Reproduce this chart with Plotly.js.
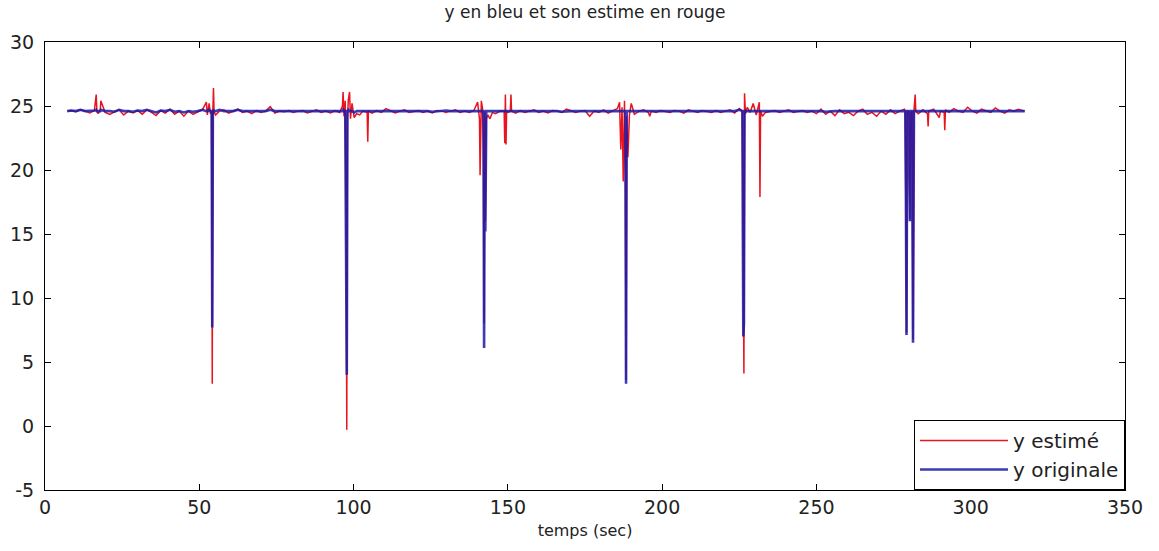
<!DOCTYPE html>
<html>
<head>
<meta charset="utf-8">
<script src="https://cdn.plot.ly/plotly-3.0.1.min.js"></script>
<style>html,body{margin:0;padding:0;background:#fff;}#chart{width:1159px;height:551px;}</style>
</head>
<body>
<div id="chart"></div>
<script>
// temps (sec)
var temps = [
  7.2, 8.5, 10, 11.5, 13, 14.5, 16, 16.6, 16.8, 17.2,
  17.9, 18.1, 19.5, 21, 22.5, 24, 25.5, 27, 28.5, 30,
  31.5, 33, 34.5, 36, 37.5, 39, 40.5, 42, 43.5, 45,
  46.5, 48, 49.5, 51, 52.3, 52.6, 53.2, 53.6, 54.0, 54.2,
  54.4, 54.6, 54.8, 55.3, 56.5, 58, 59.5, 61, 62.5, 64,
  65.5, 67, 68.5, 70, 71.5, 73, 74.5, 76, 77.5, 79,
  80.5, 82, 83.5, 85, 86.5, 88, 89.5, 91, 92.5, 94,
  95.5, 96.4, 96.6, 96.9, 97.3, 97.6, 97.8, 98.0, 98.3, 98.7,
  99.0, 99.5, 100.2, 101, 102, 103, 104.4, 104.6, 104.8, 106,
  107.5, 109, 110.5, 112, 113.5, 115, 116.5, 118, 119.5, 121,
  122.5, 124, 125.5, 127, 128.5, 130, 131.5, 133, 134.5, 136,
  137.5, 139, 140.2, 140.8, 141.0, 141.2, 141.4, 141.8, 142.1, 142.3,
  142.5, 142.7, 143.0, 143.5, 144.2, 145, 146, 147.5, 148.8, 149.0,
  149.2, 149.4, 149.6, 150, 150.8, 151.0, 151.2, 152.5, 154, 155.5,
  157, 158.5, 160, 161.5, 163, 164.5, 166, 167.5, 169, 170.5,
  172, 173.5, 175, 176.5, 178, 179.5, 181, 182.5, 184, 185.5,
  186.2, 186.6, 187.0, 187.4, 187.8, 188.1, 188.3, 188.5, 188.9, 189.4,
  190, 191, 192.5, 194, 195.5, 196.0, 196.5, 198, 199.5, 201,
  202.5, 204, 205.5, 207, 208.5, 210, 211.5, 213, 214.5, 216,
  217.5, 219, 220.5, 222, 223.5, 225, 226.0, 226.3, 226.5, 226.7,
  227.0, 227.6, 228.5, 229.5, 230.5, 231.5, 231.7, 231.9, 232.5, 233.5,
  235, 236.5, 238, 239.5, 241, 242.5, 244, 245.5, 247, 248.5,
  250, 251.5, 253, 254.5, 256, 257.5, 259, 260.5, 262, 263.5,
  265, 266.5, 268, 269.5, 271, 272.5, 274, 275.5, 277, 278.5,
  278.8, 279.0, 279.2, 279.4, 279.7, 280.0, 280.3, 280.6, 281.0, 281.3,
  281.6, 282.0, 282.2, 283, 284.5, 286.0, 286.2, 286.4, 288, 289.8,
  290.2, 291.4, 291.6, 291.8, 293, 294.5, 296, 297.5, 299, 300.5,
  302, 303.5, 305, 306.5, 308, 309.5, 311, 312.5, 314, 315.5,
  317.5
];

// y estimé (rouge)
var yEstime = [
  24.6, 24.65, 24.55, 24.7, 24.6, 24.45, 24.65, 25.9, 24.6, 24.4,
  24.65, 25.4, 24.5, 24.35, 24.55, 24.7, 24.3, 24.6, 24.45, 24.65,
  24.35, 24.7, 24.5, 24.25, 24.65, 24.45, 24.75, 24.35, 24.6, 24.2,
  24.6, 24.35, 24.55, 24.7, 25.3, 24.3, 25.2, 24.4, 24.6, 3.3,
  24.6, 26.4, 24.5, 24.3, 24.6, 24.7, 24.45, 24.6, 24.75, 24.5,
  24.6, 24.4, 24.65, 24.5, 24.6, 24.95, 24.45, 24.6, 24.55, 24.65,
  24.5, 24.6, 24.65, 24.45, 24.6, 24.7, 24.5, 24.6, 24.45, 24.65,
  24.5, 25.0, 26.1, 24.2, 25.4, 16.0, -0.3, 24.0, 25.5, 26.1,
  24.0, 25.2, 24.1, 24.4, 24.3, 24.6, 24.5, 22.2, 24.6, 24.45,
  24.65, 24.5, 24.8, 24.6, 24.45, 24.6, 24.7, 24.5, 24.6, 24.65,
  24.5, 24.6, 24.45, 24.65, 24.6, 24.5, 24.6, 24.7, 24.5, 24.6,
  24.5, 24.65, 25.3, 24.0, 19.6, 24.2, 25.4, 24.8, 21.8, 8.0,
  24.6, 16.0, 24.0, 24.3, 24.0, 24.5, 24.4, 24.6, 24.6, 22.1,
  25.9, 22.0, 24.6, 24.5, 24.6, 25.9, 24.6, 24.45, 24.65, 24.5,
  24.6, 24.7, 24.5, 24.6, 24.45, 24.65, 24.6, 24.5, 24.75, 24.6,
  24.5, 24.6, 24.65, 24.2, 24.6, 24.5, 24.7, 24.45, 24.6, 24.8,
  25.3, 21.6, 24.9, 19.1, 25.4, 19.5, 3.6, 24.2, 21.0, 24.3,
  25.2, 24.35, 24.6, 24.7, 24.5, 24.2, 24.6, 24.5, 24.65, 24.6,
  24.5, 24.65, 24.6, 24.45, 24.7, 24.6, 24.5, 24.65, 24.6, 24.5,
  24.65, 24.5, 24.6, 24.7, 24.45, 24.8, 24.6, 7.2, 4.1, 26.0,
  24.4, 24.9, 24.5, 25.2, 24.3, 25.3, 17.9, 24.6, 24.2, 24.5,
  24.6, 24.65, 24.5, 24.6, 24.7, 24.5, 24.6, 24.65, 24.5, 24.6,
  24.4, 24.75, 24.35, 24.6, 24.25, 24.7, 24.4, 24.5, 24.25, 24.6,
  24.75, 24.35, 24.5, 24.2, 24.6, 24.35, 24.7, 24.4, 24.6, 24.75,
  24.6, 18.0, 7.3, 24.6, 24.5, 24.6, 16.2, 24.5, 24.6, 6.8,
  24.6, 25.9, 24.6, 24.4, 24.7, 24.4, 23.4, 24.6, 24.75, 24.1,
  24.6, 24.5, 23.1, 24.7, 24.5, 24.8, 24.6, 24.5, 24.9, 24.6,
  24.45, 24.75, 24.6, 24.5, 24.85, 24.6, 24.45, 24.7, 24.6, 24.75,
  24.6
];

// y originale (bleu)
var yOriginale = [
  24.6, 24.65, 24.6, 24.7, 24.6, 24.6, 24.65, 24.7, 24.6, 24.6,
  24.6, 24.7, 24.6, 24.6, 24.55, 24.7, 24.6, 24.6, 24.55, 24.65,
  24.6, 24.7, 24.6, 24.5, 24.65, 24.6, 24.7, 24.55, 24.6, 24.5,
  24.6, 24.55, 24.6, 24.7, 24.6, 24.6, 24.7, 24.6, 24.6, 7.7,
  24.6, 24.7, 24.6, 24.6, 24.7, 24.6, 24.6, 24.6, 24.7, 24.6,
  24.6, 24.6, 24.65, 24.6, 24.6, 24.7, 24.6, 24.6, 24.6, 24.6,
  24.6, 24.6, 24.6, 24.6, 24.6, 24.65, 24.6, 24.6, 24.6, 24.6,
  24.6, 24.6, 24.7, 24.6, 24.6, 16.2, 4.0, 24.6, 24.7, 24.6,
  24.6, 24.6, 24.5, 24.6, 24.6, 24.6, 24.6, 24.6, 24.6, 24.6,
  24.6, 24.6, 24.65, 24.6, 24.6, 24.6, 24.6, 24.6, 24.6, 24.6,
  24.6, 24.6, 24.55, 24.6, 24.6, 24.65, 24.6, 24.6, 24.6, 24.6,
  24.6, 24.6, 24.6, 24.6, 24.6, 24.6, 24.6, 24.6, 24.6, 6.1,
  24.6, 15.2, 24.6, 24.6, 24.6, 24.6, 24.6, 24.6, 24.6, 24.6,
  24.6, 24.6, 24.6, 24.6, 24.6, 24.6, 24.6, 24.6, 24.65, 24.6,
  24.6, 24.6, 24.6, 24.65, 24.6, 24.6, 24.6, 24.55, 24.6, 24.6,
  24.6, 24.6, 24.65, 24.6, 24.6, 24.6, 24.6, 24.6, 24.6, 24.6,
  24.6, 24.6, 24.6, 24.6, 24.6, 24.6, 3.3, 24.6, 24.6, 24.6,
  24.6, 24.6, 24.6, 24.65, 24.6, 24.6, 24.6, 24.6, 24.6, 24.6,
  24.6, 24.6, 24.6, 24.6, 24.65, 24.6, 24.6, 24.6, 24.6, 24.6,
  24.6, 24.6, 24.6, 24.6, 24.6, 24.7, 24.6, 7.0, 8.0, 24.6,
  24.6, 24.6, 24.6, 24.65, 24.6, 24.6, 24.6, 24.6, 24.6, 24.6,
  24.6, 24.6, 24.6, 24.6, 24.6, 24.6, 24.6, 24.6, 24.6, 24.6,
  24.6, 24.6, 24.55, 24.6, 24.6, 24.6, 24.6, 24.6, 24.6, 24.6,
  24.6, 24.6, 24.6, 24.6, 24.6, 24.6, 24.6, 24.6, 24.6, 24.6,
  24.6, 18.2, 7.1, 24.6, 24.6, 24.6, 16.0, 24.6, 24.6, 6.5,
  24.6, 24.6, 24.6, 24.6, 24.6, 24.6, 24.6, 24.6, 24.6, 24.6,
  24.6, 24.6, 24.6, 24.6, 24.6, 24.6, 24.6, 24.6, 24.65, 24.6,
  24.6, 24.6, 24.6, 24.6, 24.6, 24.6, 24.6, 24.6, 24.6, 24.6,
  24.6
];

var xTicks = [0, 50, 100, 150, 200, 250, 300, 350];
var yTicks = [-5, 0, 5, 10, 15, 20, 25, 30];

var fontFam = 'DejaVu Sans, Liberation Sans, Arial, sans-serif';
var txtColor = '#222222';

var traces = [
  {x: temps, y: yEstime, type: 'scatter', mode: 'lines', name: 'y estimé',
   line: {color: '#e8141e', width: 1.5}},
  {x: temps, y: yOriginale, type: 'scatter', mode: 'lines', name: 'y originale',
   opacity: 0.85, line: {color: '#1a1aa8', width: 2.6}}
];

var layout = {
  width: 1159, height: 551,
  paper_bgcolor: '#ffffff', plot_bgcolor: '#ffffff',
  margin: {l: 45, r: 34, t: 42, b: 61, pad: 0},
  font: {family: fontFam, color: txtColor, size: 18},
  title: {text: 'y en bleu et son estime en rouge', font: {size: 17, family: fontFam, color: txtColor},
          x: 0.5, xref: 'paper', xanchor: 'center', y: 1 - 12/551, yref: 'container', yanchor: 'middle'},
  xaxis: {range: [0, 350], tickvals: xTicks, ticktext: xTicks.map(String),
          ticks: 'inside', ticklen: 6, tickcolor: '#000', tickwidth: 1,
          showline: true, linecolor: '#000', linewidth: 1, mirror: 'ticks',
          showgrid: false, zeroline: false, tickfont: {size: 19, family: fontFam, color: txtColor},
          title: {text: 'temps (sec)', font: {size: 16, family: fontFam, color: txtColor}, standoff: 8}},
  yaxis: {range: [-5, 30], tickvals: yTicks, ticktext: yTicks.map(String),
          ticks: 'inside', ticklen: 6, tickcolor: '#000', tickwidth: 1,
          showline: true, linecolor: '#000', linewidth: 1, mirror: 'ticks',
          showgrid: false, zeroline: false, tickfont: {size: 19, family: fontFam, color: txtColor},
          ticklabelstandoff: 6},
  showlegend: true,
  legend: {x: 1, xanchor: 'right', y: 0, yanchor: 'bottom', bgcolor: '#ffffff',
           bordercolor: '#000', borderwidth: 1, font: {size: 20, family: fontFam, color: txtColor},
           itemwidth: 88, tracegroupgap: 0}
};

Plotly.newPlot('chart', traces, layout, {displayModeBar: false, staticPlot: true});
</script>
</body>
</html>
